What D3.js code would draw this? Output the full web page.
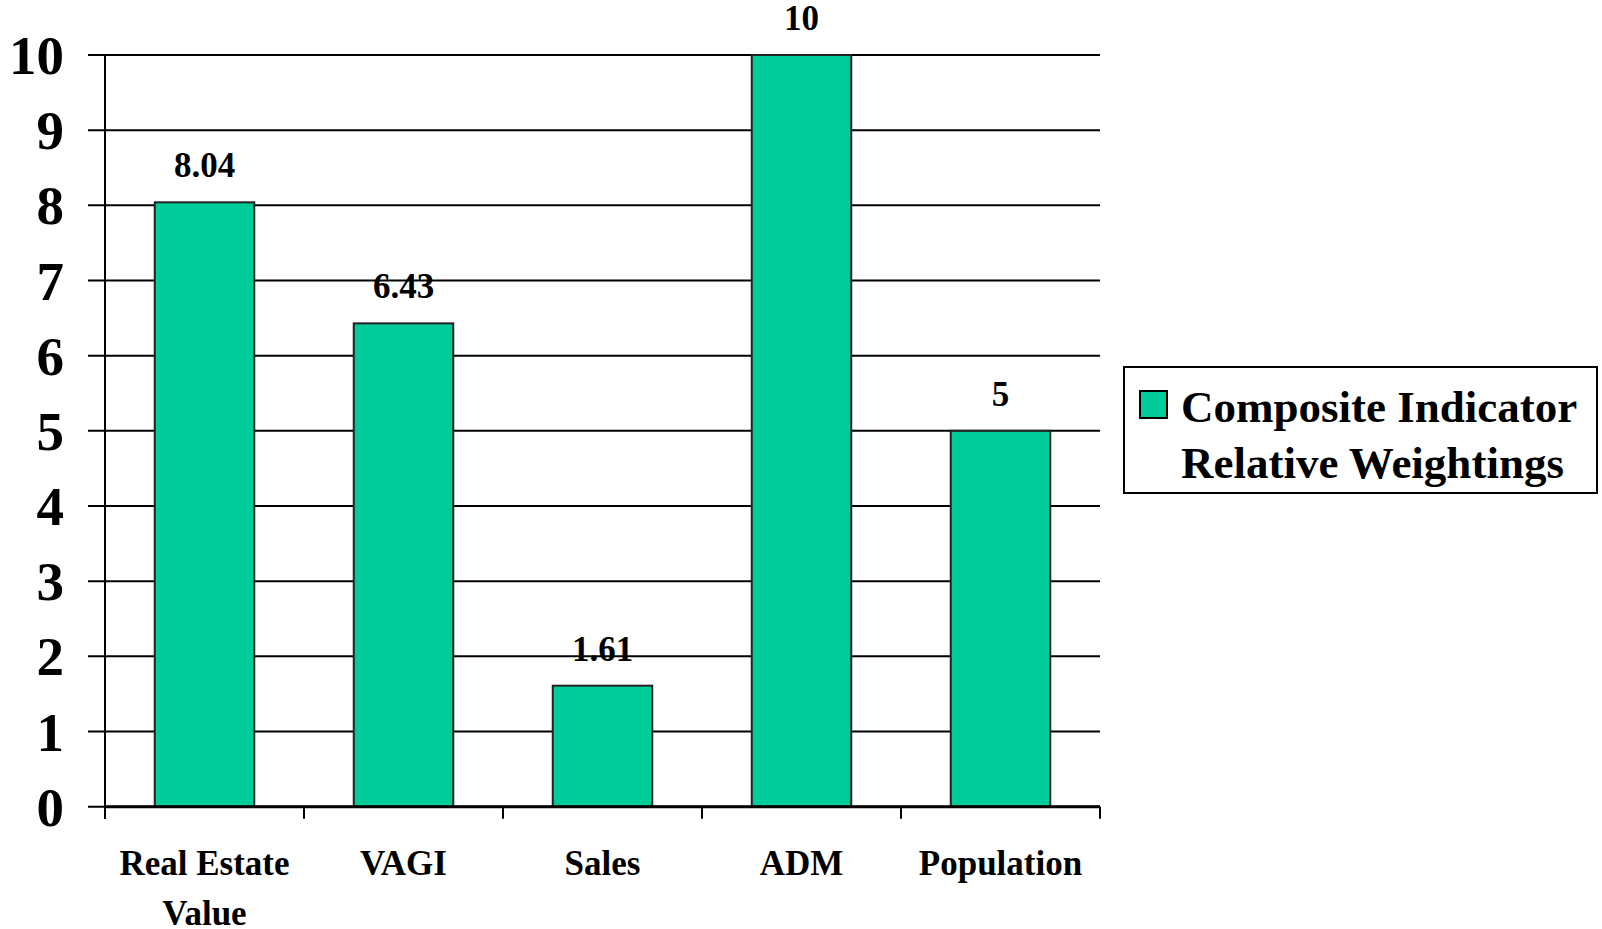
<!DOCTYPE html>
<html>
<head>
<meta charset="utf-8">
<script src="https://cdn.jsdelivr.net/npm/d3@7"></script>
<style>
  body { margin: 0; background: #fff; }
  text { font-family: "Liberation Serif", "Times New Roman", serif; font-weight: bold; fill: #000; }
</style>
</head>
<body>
<svg id="chart" width="1602" height="929"></svg>
<script>
// values
var categories = [["Real Estate", "Value"], ["VAGI"], ["Sales"], ["ADM"], ["Population"]];
var weights = [8.04, 6.43, 1.61, 10, 5];
var weightLabels = ["8.04", "6.43", "1.61", "10", "5"];
var yTicks = [0, 1, 2, 3, 4, 5, 6, 7, 8, 9, 10];
var seriesName = ["Composite Indicator", "Relative Weightings"];

(function () {
  'use strict';

  var barColor = "#00cc99";
  var svg = d3.select("#chart");

  var plotLeft = 105, plotRight = 1100, plotTop = 55, plotBottom = 806.7;

  var x = d3.scaleBand()
    .domain(d3.range(categories.length))
    .range([plotLeft, plotRight])
    .paddingInner(0.5)
    .paddingOuter(0.25);

  var y = d3.scaleLinear().domain([0, 10]).range([plotBottom, plotTop]);

  // gridlines + y ticks
  svg.append("g")
    .selectAll("line")
    .data(yTicks)
    .join("line")
    .attr("x1", 88).attr("x2", plotRight)
    .attr("y1", function (d) { return y(d); })
    .attr("y2", function (d) { return y(d); })
    .attr("stroke", "#000").attr("stroke-width", 2);

  svg.append("g")
    .selectAll("text")
    .data(yTicks)
    .join("text")
    .attr("x", 64)
    .attr("y", function (d) { return y(d) + 19; })
    .attr("text-anchor", "end")
    .style("font-size", "55px")
    .text(function (d) { return d; });

  // y axis line
  svg.append("line")
    .attr("x1", plotLeft).attr("x2", plotLeft)
    .attr("y1", plotTop).attr("y2", plotBottom + 12)
    .attr("stroke", "#000").attr("stroke-width", 2);

  // category boundary ticks
  var step = (plotRight - plotLeft) / categories.length;
  svg.append("g")
    .selectAll("line")
    .data(d3.range(categories.length + 1))
    .join("line")
    .attr("x1", function (i) { return plotLeft + i * step; })
    .attr("x2", function (i) { return plotLeft + i * step; })
    .attr("y1", plotBottom).attr("y2", plotBottom + 12)
    .attr("stroke", "#000").attr("stroke-width", 2);

  // bars
  svg.append("g")
    .selectAll("rect")
    .data(weights)
    .join("rect")
    .attr("x", function (d, i) { return x(i); })
    .attr("y", function (d) { return y(d); })
    .attr("width", x.bandwidth())
    .attr("height", function (d) { return plotBottom - y(d); })
    .attr("fill", barColor)
    .attr("stroke", "#222").attr("stroke-width", 2);

  // x axis line over the bars
  svg.append("line")
    .attr("x1", plotLeft).attr("x2", plotRight)
    .attr("y1", plotBottom).attr("y2", plotBottom)
    .attr("stroke", "#000").attr("stroke-width", 3);

  // value labels
  svg.append("g")
    .selectAll("text")
    .data(weights)
    .join("text")
    .attr("x", function (d, i) { return x(i) + x.bandwidth() / 2; })
    .attr("y", function (d) { return y(d) - 25; })
    .attr("text-anchor", "middle")
    .style("font-size", "35px")
    .text(function (d, i) { return weightLabels[i]; });

  // category labels
  var catText = svg.append("g")
    .selectAll("text")
    .data(categories)
    .join("text")
    .attr("text-anchor", "middle")
    .style("font-size", "35px");
  catText.selectAll("tspan")
    .data(function (d, i) { return d.map(function (s) { return { s: s, i: i }; }); })
    .join("tspan")
    .attr("x", function (d) { return x(d.i) + x.bandwidth() / 2; })
    .attr("y", function (d, j) { return 875 + j * 50; })
    .text(function (d) { return d.s; });

  // legend
  var lg = svg.append("g");
  lg.append("rect")
    .attr("x", 1124).attr("y", 367)
    .attr("width", 473).attr("height", 126)
    .attr("fill", "#fff").attr("stroke", "#000").attr("stroke-width", 2);
  lg.append("rect")
    .attr("x", 1140).attr("y", 391)
    .attr("width", 27).attr("height", 27)
    .attr("fill", barColor).attr("stroke", "#000").attr("stroke-width", 2);
  lg.append("text")
    .style("font-size", "45px")
    .selectAll("tspan")
    .data(seriesName)
    .join("tspan")
    .attr("x", 1181)
    .attr("y", function (d, i) { return 422 + i * 56; })
    .text(function (d) { return d; });
})();
</script>
</body>
</html>
